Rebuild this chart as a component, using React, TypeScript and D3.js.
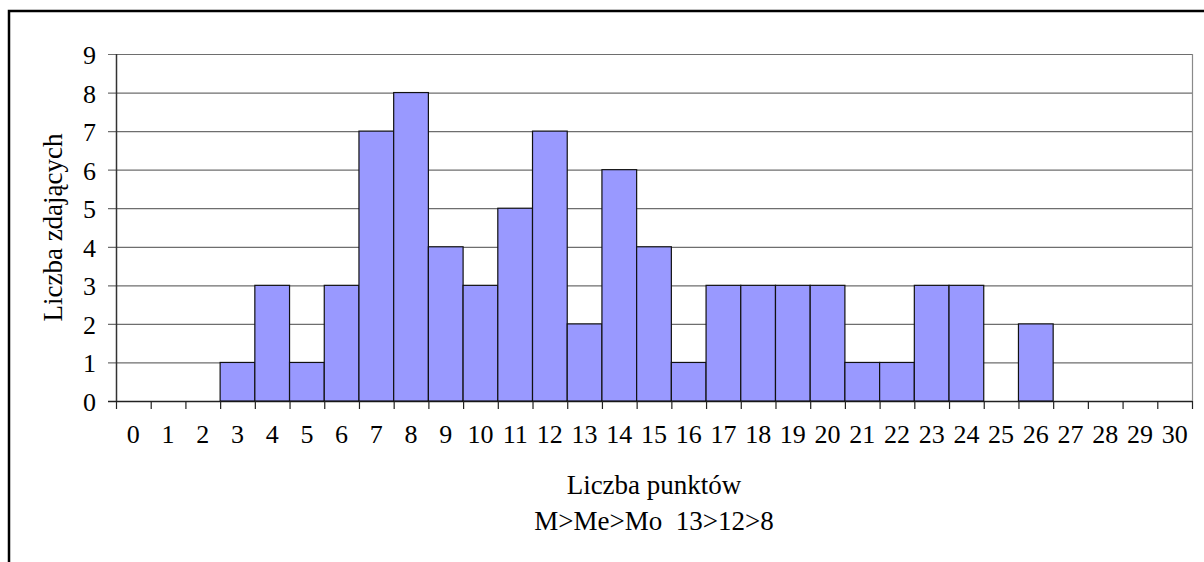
import { useEffect, useRef } from 'react';
import * as d3 from 'd3';

// punkty 0..30 i liczba zdających
const points = d3.range(0, 31).map(String);
const counts = [0, 0, 0, 1, 3, 1, 3, 7, 8, 4, 3, 5, 7, 2, 6, 4, 1, 3, 3, 3, 3, 1, 1, 3, 3, 0, 2, 0, 0, 0, 0];
const yTicks = [0, 1, 2, 3, 4, 5, 6, 7, 8, 9];

const W = 1204;
const H = 562;
const M = { top: 54, right: 12, bottom: 161, left: 116 };
const FONT = '"Liberation Serif", "Times New Roman", serif';

export default function App() {
  const svgRef = useRef<SVGSVGElement>(null);

  useEffect(() => {
    const svg = d3.select(svgRef.current);
    svg.selectAll('*').remove();

    const x0 = M.left;
    const x1 = W - M.right;
    const yBottom = H - M.bottom;

    const x = d3.scaleBand().domain(points).range([x0, x1]).padding(0);
    const y = d3.scaleLinear().domain([0, 9]).range([yBottom, M.top]);

    svg.append('rect').attr('width', W).attr('height', H).attr('fill', '#fff');

    // outer frame
    svg
      .append('rect')
      .attr('x', 9)
      .attr('y', 11)
      .attr('width', W + 20)
      .attr('height', H + 20)
      .attr('fill', 'none')
      .attr('stroke', '#000')
      .attr('stroke-width', 2.5);

    // grid
    yTicks.forEach((t) => {
      svg
        .append('line')
        .attr('x1', x0 - 8)
        .attr('x2', x1)
        .attr('y1', y(t) + 0.5)
        .attr('y2', y(t) + 0.5)
        .attr('stroke', t === 0 ? '#222' : '#6e6e6e')
        .attr('stroke-width', t === 0 ? 1.5 : 1.2);
      svg
        .append('text')
        .attr('x', x0 - 20)
        .attr('y', y(t) + 10)
        .attr('text-anchor', 'end')
        .attr('font-family', FONT)
        .attr('font-size', 26)
        .attr('fill', '#000')
        .text(t);
    });

    // right border of the plot
    svg
      .append('line')
      .attr('x1', x1 + 0.5)
      .attr('x2', x1 + 0.5)
      .attr('y1', M.top)
      .attr('y2', yBottom)
      .attr('stroke', '#8a8a8a')
      .attr('stroke-width', 1.2);

    // bars
    points.forEach((p, i) => {
      if (!counts[i]) return;
      svg
        .append('rect')
        .attr('x', x(p)!)
        .attr('y', y(counts[i]))
        .attr('width', x.bandwidth())
        .attr('height', yBottom - y(counts[i]))
        .attr('fill', '#9999ff')
        .attr('stroke', '#111')
        .attr('stroke-width', 1.2);
    });

    // y axis
    svg
      .append('line')
      .attr('x1', x0 + 0.5)
      .attr('x2', x0 + 0.5)
      .attr('y1', M.top)
      .attr('y2', yBottom)
      .attr('stroke', '#333')
      .attr('stroke-width', 1.5);

    // x ticks at band edges
    const edges = points.map((p) => x(p)!).concat([x1]);
    edges.forEach((e) => {
      svg
        .append('line')
        .attr('x1', e + 0.5)
        .attr('x2', e + 0.5)
        .attr('y1', yBottom)
        .attr('y2', yBottom + 8)
        .attr('stroke', '#222')
        .attr('stroke-width', 1.2);
    });

    points.forEach((p) => {
      svg
        .append('text')
        .attr('x', x(p)! + x.bandwidth() / 2)
        .attr('y', yBottom + 42)
        .attr('text-anchor', 'middle')
        .attr('font-family', FONT)
        .attr('font-size', 26)
        .attr('fill', '#000')
        .text(p);
    });

    // titles
    svg
      .append('text')
      .attr('x', (x0 + x1) / 2)
      .attr('y', 494)
      .attr('text-anchor', 'middle')
      .attr('font-family', FONT)
      .attr('font-size', 27)
      .text('Liczba punktów');
    svg
      .append('text')
      .attr('x', (x0 + x1) / 2)
      .attr('y', 530)
      .attr('text-anchor', 'middle')
      .attr('font-family', FONT)
      .attr('font-size', 27)
      .style('white-space', 'pre')
      .text('M>Me>Mo  13>12>8');
    svg
      .append('text')
      .attr('transform', `translate(62, ${(M.top + yBottom) / 2}) rotate(-90)`)
      .attr('text-anchor', 'middle')
      .attr('font-family', FONT)
      .attr('font-size', 27)
      .text('Liczba zdających');
  }, []);

  return (
    <svg
      ref={svgRef}
      width={W}
      height={H}
      style={{ position: 'absolute', left: 0, top: 0, display: 'block' }}
    />
  );
}
